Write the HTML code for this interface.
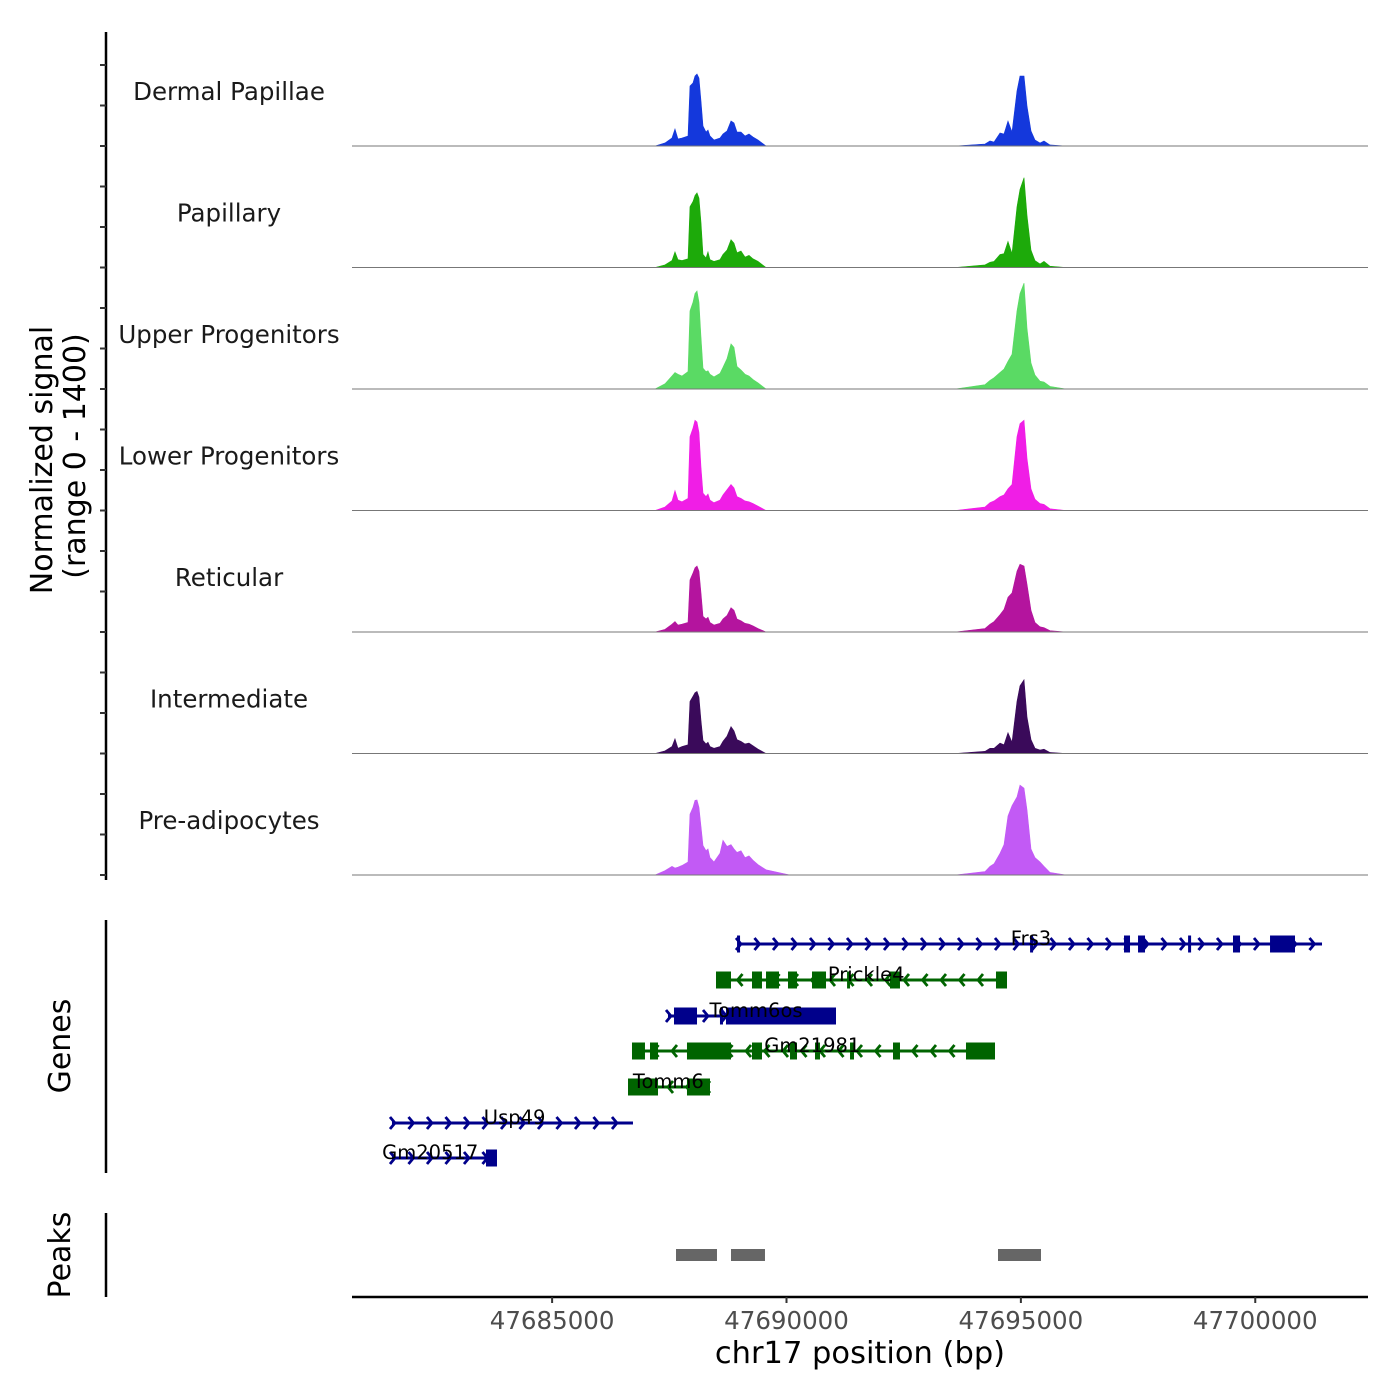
<!DOCTYPE html>
<html><head><meta charset="utf-8"><style>
html,body{margin:0;padding:0;background:#fff}
svg{display:block;font-family:"DejaVu Sans","Liberation Sans",sans-serif}
</style></head><body>
<svg id="chart" width="1400" height="1400" viewBox="0 0 1400 1400" xmlns="http://www.w3.org/2000/svg">
<g id="tracks"></g>
<g id="genes"></g>
<g id="peaks"></g>
<g id="axes"></g>
</svg>
<script>
// ---- data ----
const trackNames = ["Dermal Papillae","Papillary","Upper Progenitors","Lower Progenitors","Reticular","Intermediate","Pre-adipocytes"];
const trackColors = ["#1438dc","#1daa0a","#5ada64","#f01ee6","#b4149e","#3a0a5a","#c25af5"];
const positions = [47680731,47687195,47687408,47687557,47687621,47687685,47687771,47687899,47687941,47688005,47688048,47688091,47688133,47688176,47688219,47688283,47688325,47688368,47688453,47688581,47688645,47688731,47688816,47688880,47688944,47689029,47689115,47689200,47689285,47689392,47689563,47690075,47693595,47694235,47694341,47694427,47694555,47694640,47694725,47694811,47694917,47694981,47695067,47695131,47695216,47695301,47695408,47695493,47695621,47695963,47702405];
const sigDermal = [0,0,35,92,196,81,92,115,691,726,806,830,783,518,230,161,184,115,69,92,138,173,288,265,161,161,115,138,104,69,0,0,0,23,58,46,150,138,288,161,634,806,806,461,173,69,35,58,12,0,0];
const sigPapillary = [0,0,30,80,180,90,80,100,700,760,830,860,800,520,150,110,180,90,70,90,150,200,320,280,170,190,120,140,100,70,0,0,0,30,60,70,150,160,300,160,700,900,1035,600,200,80,40,70,15,0,0];
const sigUpper = [0,0,60,150,190,170,150,200,900,1000,1100,1130,1000,600,240,200,210,170,140,180,250,350,520,480,260,220,170,150,110,70,0,0,0,50,100,130,190,230,320,400,900,1100,1220,700,300,160,90,80,30,0,0];
const sigLower = [0,0,40,110,230,120,100,140,850,950,1040,1020,900,500,200,160,190,120,90,120,180,240,300,260,160,140,110,100,80,50,0,0,0,40,90,110,160,180,250,300,850,1000,1040,600,250,130,80,70,20,0,0];
const sigReticular = [0,0,30,90,120,80,90,110,600,680,740,760,700,450,180,150,170,110,80,100,150,190,280,250,150,130,100,90,70,40,0,0,0,40,90,120,200,260,400,450,700,780,760,550,250,110,60,50,15,0,0];
const sigIntermediate = [0,0,30,80,170,60,80,100,600,660,700,715,650,380,150,110,130,80,60,80,140,200,310,260,160,140,110,120,90,50,0,0,0,25,60,60,120,100,240,130,600,780,850,420,160,60,40,50,12,0,0];
const sigPreadipo = [0,0,50,100,80,90,110,150,700,780,860,865,780,560,340,280,300,200,150,250,400,330,350,300,260,280,200,220,170,120,60,0,0,40,100,130,250,350,680,800,900,1035,1000,750,300,200,150,100,30,0,0];
const trackValues = [sigDermal,sigPapillary,sigUpper,sigLower,sigReticular,sigIntermediate,sigPreadipo];

const geneNames = ["Frs3","Prickle4","Tomm6os","Gm21981","Tomm6","Usp49","Gm20517"];
const geneStarts = [47688965,47688496,47687472,47686704,47686619,47681584,47681584];
const geneEnds = [47701424,47694704,47691056,47694448,47688368,47686725,47683824];
const geneStrands = [1,-1,1,-1,-1,1,1];
const geneLabelPos = [47695216,47691700,47689350,47690550,47687480,47684200,47682400];
const geneExons = [
 [[47688945,47688985],[47695196,47695236],[47697200,47697328],[47697499,47697648],[47698567,47698607],[47699525,47699675],[47700315,47700848]],
 [[47688496,47688816],[47689264,47689477],[47689563,47689840],[47690032,47690224],[47690544,47690843],[47691292,47691332],[47692208,47692421],[47694469,47694704]],
 [[47687600,47688091],[47688581,47688645],[47688709,47691056]],
 [[47686704,47686981],[47687088,47687259],[47687877,47688816],[47689264,47689477],[47690075,47690224],[47690608,47690715],[47691355,47691440],[47692272,47692421],[47693829,47694448]],
 [[47686619,47687259],[47687877,47688368]],
 [],
 [[47683589,47683824]]
];
const peakStarts = [47687643,47688816,47694512];
const peakEnds = [47688517,47689541,47695429];
const xTicks = [47685000,47690000,47695000,47700000];

// ---- scales ----
const X0=352, X1=1368, BP0=47680731, BP1=47702405;
function xs(bp){return X0+(bp-BP0)/(BP1-BP0)*(X1-X0);}
const panelH=121.5, baseTop=146, yMax=1400;
function ys(i,v){return baseTop+i*panelH - v/yMax*panelH;}
const NS="http://www.w3.org/2000/svg";
function mk(tag,attrs,parent){const e=document.createElementNS(NS,tag);for(const k in attrs)e.setAttribute(k,attrs[k]);parent.appendChild(e);return e;}

// ---- coverage tracks ----
const tg=document.getElementById('tracks');
trackValues.forEach((vals,i)=>{
  const base=baseTop+i*panelH;
  let d=`M${xs(positions[0])},${base}`;
  positions.forEach((p,j)=>{d+=`L${xs(p).toFixed(2)},${ys(i,vals[j]).toFixed(2)}`;});
  d+=`L${xs(positions[positions.length-1])},${base}Z`;
  const a=mk('path',{d:d,fill:trackColors[i],stroke:trackColors[i],'stroke-width':0.6},tg);
  
  
  const bl=mk('line',{x1:X0,x2:X1,y1:base,y2:base,stroke:'#777','stroke-width':1},tg);
  
  
  const t=mk('text',{x:229,y:base-46,'text-anchor':'middle','font-size':24.5,fill:'#1a1a1a'},tg);
  t.textContent=trackNames[i];
  
  
});

// ---- genes ----
const gg=document.getElementById('genes');
const rowY=[944,980,1016,1051,1087,1123,1158];
geneNames.forEach((g,i)=>{
  const y=rowY[i], col=geneStrands[i]>0?'#00008b':'#006400';
  const x1=xs(geneStarts[i]), x2=xs(geneEnds[i]);
  const grp=mk('g',{},gg);
  
  
  mk('line',{x1:x1,x2:x2,y1:y,y2:y,stroke:col,'stroke-width':3},grp);
  for(let x=x1+3;x<=x2;x+=18.5){
    const s=geneStrands[i]>0?1:-1, w=5;
    mk('polyline',{points:`${x-s*w},${y-6} ${x},${y} ${x-s*w},${y+6}`,fill:'none',stroke:col,'stroke-width':2.8},grp);
  }
  geneExons[i].forEach(ex=>{
    const a=xs(ex[0]), b=xs(ex[1]);
    mk('rect',{x:a,y:y-8.5,width:Math.max(b-a,3),height:17,fill:col},grp);
  });
  const t=mk('text',{x:xs(geneLabelPos[i]),y:y+1,'text-anchor':'middle','font-size':19.5,fill:'#000'},grp);
  t.textContent=g;
  
  
});

// ---- peaks ----
const pg=document.getElementById('peaks');
peakStarts.forEach((s,i)=>{
  const r=mk('rect',{x:xs(s),y:1249,width:xs(peakEnds[i])-xs(s),height:12,fill:'#666'},pg);
  
  
});

// ---- axes ----
const ag=document.getElementById('axes');
mk('line',{x1:106,x2:106,y1:32,y2:880,stroke:'#000','stroke-width':2.5},ag);
for(let k=0;k<21;k++){const y=65+k*40.5;mk('line',{x1:100,x2:106,y1:y,y2:y,stroke:'#333','stroke-width':2},ag);}
mk('line',{x1:106,x2:106,y1:920,y2:1173,stroke:'#000','stroke-width':2.5},ag);
mk('line',{x1:106,x2:106,y1:1213,y2:1297,stroke:'#000','stroke-width':2.5},ag);
mk('line',{x1:X0,x2:X1,y1:1297,y2:1297,stroke:'#000','stroke-width':2.5},ag);
xTicks.forEach(v=>{
  const x=xs(v);
  mk('line',{x1:x,x2:x,y1:1297,y2:1303,stroke:'#333','stroke-width':2},ag);
  const t=mk('text',{x:x,y:1329,'text-anchor':'middle','font-size':24.5,fill:'#4d4d4d'},ag);
  t.textContent=String(v);
  
  
});
</script>
<svg style="position:absolute;left:0;top:0" width="1400" height="1400">
<text x="860" y="1363" text-anchor="middle" font-size="30.5" fill="#000" font-family="DejaVu Sans, Liberation Sans, sans-serif">chr17 position (bp)</text>
<text transform="translate(52,460) rotate(-90)" text-anchor="middle" font-size="30" fill="#000" font-family="DejaVu Sans, Liberation Sans, sans-serif">Normalized signal</text>
<text transform="translate(85,456) rotate(-90)" text-anchor="middle" font-size="30" fill="#000" font-family="DejaVu Sans, Liberation Sans, sans-serif">(range 0 - 1400)</text>
<text transform="translate(70,1046) rotate(-90)" text-anchor="middle" font-size="30" fill="#000" font-family="DejaVu Sans, Liberation Sans, sans-serif">Genes</text>
<text transform="translate(70,1255) rotate(-90)" text-anchor="middle" font-size="30" fill="#000" font-family="DejaVu Sans, Liberation Sans, sans-serif">Peaks</text>
</svg>
</body></html>
